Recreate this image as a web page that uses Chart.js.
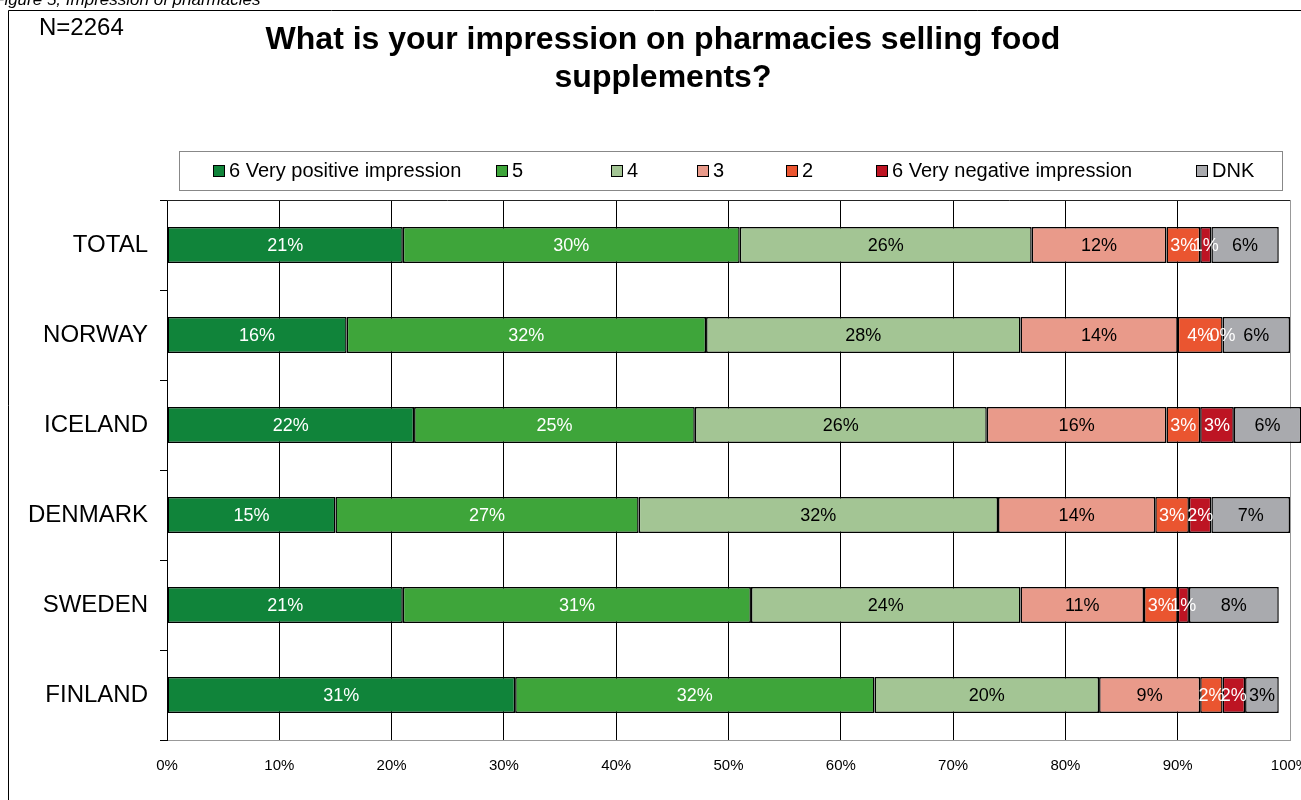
<!DOCTYPE html>
<html>
<head>
<meta charset="utf-8">
<script src="https://cdn.jsdelivr.net/npm/chart.js@4.4.0/dist/chart.umd.min.js"></script>
<style>
  html, body { margin: 0; padding: 0; background: #fff; }
  #chart { display: block; }
</style>
</head>
<body>
<canvas id="chart" width="1301" height="800"></canvas>
<script>
// survey answers, % of respondents per country
const countries = ['TOTAL', 'NORWAY', 'ICELAND', 'DENMARK', 'SWEDEN', 'FINLAND'];
const seriesNames = ['6 Very positive impression', '5', '4', '3', '2', '6 Very negative impression', 'DNK'];
const veryPositive = [21, 16, 22, 15, 21, 31];
const five = [30, 32, 25, 27, 31, 32];
const four = [26, 28, 26, 32, 24, 20];
const three = [12, 14, 16, 14, 11, 9];
const two = [3, 4, 3, 3, 3, 2];
const veryNegative = [1, 0, 3, 2, 1, 2];
const dnk = [6, 6, 6, 7, 8, 3];
const xTickLabels = ['0%', '10%', '20%', '30%', '40%', '50%', '60%', '70%', '80%', '90%', '100%'];

const series = [veryPositive, five, four, three, two, veryNegative, dnk];
const colors = ['#10843a', '#3ea53a', '#a3c594', '#e99a8a', '#ea5530', '#bd1423', '#a9aaae'];
const textColors = ['#fff', '#fff', '#000', '#000', '#fff', '#fff', '#000'];
const legendX = [213, 496, 611, 697, 786, 876, 1196];

const FONT = "'Liberation Sans', Arial, sans-serif";
Chart.defaults.font.family = FONT;
Chart.defaults.color = '#000';

const datasets = series.map((vals, i) => ({
  label: seriesNames[i],
  data: vals,
  backgroundColor: colors[i],
  borderColor: '#000',
  borderWidth: 1.5,
  borderSkipped: false,
  categoryPercentage: 1,
  barPercentage: 0.4,
  clip: false
}));

// header, legend box, frame lines and value labels
const decorations = {
  id: 'decorations',
  beforeDraw(chart) {
    const c = chart.ctx;
    c.save();
    c.fillStyle = '#fff';
    c.fillRect(0, 0, chart.width, chart.height);

    c.font = 'italic 17px ' + FONT;
    c.fillStyle = '#000';
    c.textBaseline = 'alphabetic';
    c.fillText('Figure 5, Impression of pharmacies', -6, 5);

    c.strokeStyle = '#000';
    c.lineWidth = 1;
    c.beginPath();
    c.moveTo(8.5, chart.height);
    c.lineTo(8.5, 10.5);
    c.lineTo(chart.width, 10.5);
    c.stroke();

    c.font = '24px ' + FONT;
    c.textBaseline = 'middle';
    c.textAlign = 'left';
    c.fillText('N=2264', 39, 28);

    c.font = 'bold 32px ' + FONT;
    c.textAlign = 'center';
    c.fillText('What is your impression on pharmacies selling food', 663, 40);
    c.fillText('supplements?', 663, 78);

    // legend
    c.strokeStyle = '#888';
    c.strokeRect(179.5, 151.5, 1103, 39);
    c.font = '20px ' + FONT;
    c.textAlign = 'left';
    seriesNames.forEach((name, i) => {
      const x = legendX[i];
      c.fillStyle = colors[i];
      c.fillRect(x, 165, 11, 11);
      c.strokeStyle = '#000';
      c.strokeRect(x + 0.5, 165.5, 11, 11);
      c.fillStyle = '#000';
      c.fillText(name, x + 16, 171);
    });
    c.restore();
  },
  afterDraw(chart) {
    const c = chart.ctx;
    const a = chart.chartArea;
    c.save();
    c.strokeStyle = '#222';
    c.lineWidth = 1;
    c.beginPath();
    c.moveTo(a.left, a.top + 0.5);
    c.lineTo(a.right, a.top + 0.5);
    c.stroke();

    c.font = '18px ' + FONT;
    c.textAlign = 'center';
    c.textBaseline = 'middle';
    chart.data.datasets.forEach((ds, i) => {
      chart.getDatasetMeta(i).data.forEach((bar, j) => {
        const p = bar.getProps(['x', 'y', 'base'], true);
        c.fillStyle = textColors[i];
        c.fillText(ds.data[j] + '%', (p.x + p.base) / 2, p.y + 1);
      });
    });
    c.restore();
  }
};

new Chart(document.getElementById('chart'), {
  type: 'bar',
  data: { labels: countries, datasets: datasets },
  options: {
    indexAxis: 'y',
    responsive: false,
    animation: false,
    layout: { autoPadding: false, padding: { left: 0, top: 200, right: 11, bottom: 0 } },
    plugins: { legend: { display: false }, tooltip: { enabled: false } },
    scales: {
      x: {
        stacked: true,
        min: 0,
        max: 100,
        afterFit(scale) {
          scale.height = 60;
          // let the last tick label run past the plot edge
          scale.paddingLeft = 0;
          scale.paddingRight = 0;
        },
        afterBuildTicks(scale) {
          scale.ticks = xTickLabels.map((t, i) => ({ value: i * 10 }));
        },
        ticks: {
          callback: (v, i) => xTickLabels[i],
          font: { size: 15 },
          padding: 17,
          maxRotation: 0
        },
        grid: {
          drawTicks: false,
          color: ctx => (ctx.tick && ctx.tick.value === 100 ? '#999' : '#000'),
          lineWidth: 1
        },
        border: { display: true, color: '#999', width: 1 }
      },
      y: {
        stacked: true,
        afterFit(scale) { scale.width = 167; },
        ticks: { font: { size: 24 }, padding: 12 },
        grid: {
          offset: true,
          drawOnChartArea: false,
          drawTicks: true,
          tickLength: 7,
          color: '#000'
        },
        border: { display: true, color: '#000', width: 1 }
      }
    }
  },
  plugins: [decorations]
});
</script>
</body>
</html>
